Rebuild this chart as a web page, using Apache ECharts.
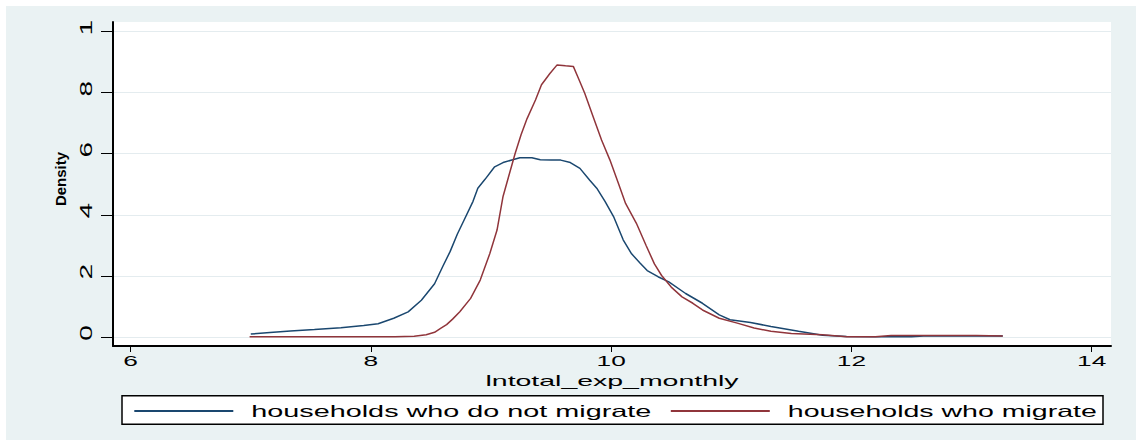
<!DOCTYPE html>
<html>
<head>
<meta charset="utf-8">
<script src="https://cdn.jsdelivr.net/npm/echarts@6/dist/echarts.min.js"></script>
<style>
  html, body { margin: 0; padding: 0; background: #ffffff; width: 1136px; height: 441px; overflow: hidden; }
  #chart { position: absolute; left: 6px; top: 6px; width: 1130px; height: 434px; }
</style>
</head>
<body>
<div id="chart"></div>
<script>
// ---- data ----
const seriesNames = ['households who do not migrate', 'households who migrate'];

const noMigrateX = [7.00, 7.16, 7.33, 7.53, 7.75, 7.94, 8.06, 8.19, 8.31, 8.42, 8.53, 8.60, 8.66, 8.72, 8.77, 8.85, 8.89, 8.95, 9.03, 9.10, 9.18, 9.24, 9.34, 9.41, 9.50, 9.58, 9.66, 9.74, 9.82, 9.88, 9.95, 10.02, 10.10, 10.17, 10.24, 10.30, 10.39, 10.48, 10.62, 10.76, 10.90, 10.99, 11.16, 11.33, 11.56, 11.76, 11.96, 12.20, 12.50, 12.60, 13.00, 13.26];
const noMigrateY = [0.009, 0.014, 0.019, 0.024, 0.030, 0.037, 0.043, 0.061, 0.082, 0.120, 0.174, 0.232, 0.280, 0.337, 0.378, 0.444, 0.487, 0.516, 0.557, 0.571, 0.580, 0.587, 0.587, 0.580, 0.579, 0.579, 0.571, 0.552, 0.514, 0.487, 0.443, 0.394, 0.318, 0.272, 0.242, 0.217, 0.197, 0.180, 0.142, 0.110, 0.072, 0.056, 0.047, 0.034, 0.018, 0.005, 0.001, 0.000, 0.000, 0.003, 0.003, 0.003];

const migrateX = [6.99, 7.60, 8.20, 8.36, 8.46, 8.53, 8.58, 8.63, 8.68, 8.74, 8.83, 8.91, 8.99, 9.05, 9.10, 9.15, 9.20, 9.25, 9.30, 9.37, 9.42, 9.49, 9.55, 9.62, 9.685, 9.73, 9.78, 9.85, 9.92, 9.99, 10.06, 10.12, 10.21, 10.29, 10.36, 10.42, 10.50, 10.59, 10.68, 10.76, 10.90, 11.05, 11.19, 11.33, 11.50, 11.76, 11.96, 12.20, 12.33, 12.70, 13.04, 13.26];
const migrateY = [0.000, 0.000, 0.000, 0.002, 0.007, 0.015, 0.028, 0.040, 0.058, 0.082, 0.126, 0.186, 0.273, 0.350, 0.460, 0.530, 0.600, 0.662, 0.715, 0.776, 0.826, 0.863, 0.891, 0.888, 0.886, 0.845, 0.798, 0.721, 0.645, 0.579, 0.503, 0.437, 0.372, 0.300, 0.239, 0.201, 0.163, 0.131, 0.110, 0.088, 0.061, 0.045, 0.029, 0.018, 0.011, 0.007, 0.000, 0.000, 0.004, 0.004, 0.004, 0.003];

const xTicks = [6, 8, 10, 12, 14];
const yTicks = [0, 0.2, 0.4, 0.6, 0.8, 1];
const yTickLabels = ['0', '2', '4', '6', '8', '1'];
const xTitle = 'lntotal_exp_monthly';
const yTitle = 'Density';

// ---- styling ----
const FONT = 'Liberation Sans, Arial, sans-serif';
const BLUE = '#1a476f';
const RED = '#90353b';

function zip(xs, ys) { return xs.map((x, i) => [x, ys[i]]); }

const chart = echarts.init(document.getElementById('chart'), null, { renderer: 'svg' });

const option = {
  animation: false,
  backgroundColor: '#eaf2f3',
  grid: { left: 107, right: 25, top: 16, bottom: 94, show: true, backgroundColor: '#ffffff', borderWidth: 0 },
  xAxis: {
    type: 'value', min: 5.853, max: 14.161,
    axisLine: { show: true, onZero: false, lineStyle: { color: '#000', width: 2 } },
    axisTick: { show: true, customValues: xTicks, length: 6, lineStyle: { color: '#000', width: 1 } },
    axisLabel: { customValues: xTicks, margin: 8.5, fontSize: 15, lineHeight: 12, color: '#000', fontFamily: FONT },
    splitLine: { show: false },
    name: xTitle, nameLocation: 'middle', nameGap: 28, nameMoveOverlap: false,
    nameTextStyle: { fontSize: 15, lineHeight: 12, color: '#000', fontFamily: FONT }
  },
  yAxis: {
    type: 'value', min: -0.030, max: 1.0315,
    axisLine: { show: true, onZero: false, lineStyle: { color: '#000', width: 2 } },
    axisTick: { show: true, customValues: yTicks, length: 12, lineStyle: { color: '#000', width: 1 } },
    axisLabel: {
      customValues: yTicks, rotate: 90, margin: 19, fontSize: 16, color: '#000', fontFamily: FONT,
      padding: [0, 0, 0, 8],
      formatter: function (v) { return yTickLabels[Math.round(v * 5)]; }
    },
    splitLine: { show: true, lineStyle: { color: '#e4ecef', width: 1 } },
    name: yTitle, nameLocation: 'middle', nameGap: 45, nameMoveOverlap: false,
    nameTextStyle: { fontSize: 15, fontWeight: 'bold', color: '#000', fontFamily: FONT, padding: [0, 0, 0, 10] }
  },
  graphic: [{
    type: 'rect', silent: true, z: 0,
    shape: { x: 116, y: 389.7, width: 981, height: 28.6 },
    style: { fill: '#ffffff', stroke: '#000', lineWidth: 1.5 }
  }],
  legend: [
    {
      data: [seriesNames[0]], left: 128.3, top: 396.5, padding: 0, icon: 'rect',
      itemWidth: 99, itemHeight: 2, selectedMode: false,
      textStyle: { fontSize: 16.5, color: '#000', fontFamily: FONT, padding: [14, 0, 0, 13] }
    },
    {
      data: [seriesNames[1]], left: 664.8, top: 396.5, padding: 0, icon: 'rect',
      itemWidth: 99, itemHeight: 2, selectedMode: false,
      textStyle: { fontSize: 16.5, color: '#000', fontFamily: FONT, padding: [14, 0, 0, 13] }
    }
  ],
  series: [
    {
      name: seriesNames[0], type: 'line', data: zip(noMigrateX, noMigrateY),
      symbol: 'none', color: BLUE, itemStyle: { color: BLUE },
      lineStyle: { color: BLUE, width: 1.5 }
    },
    {
      name: seriesNames[1], type: 'line', data: zip(migrateX, migrateY),
      symbol: 'none', color: RED, itemStyle: { color: RED },
      lineStyle: { color: RED, width: 1.5 }
    }
  ]
};

chart.setOption(option);

// The reference draws its text with wide glyphs: stretch text along its baseline.
const K = 1.75;
const targetWidths = { 'households who do not migrate': 400, 'households who migrate': 309, 'lntotal_exp_monthly': 253 };
function stretchTexts() {
  document.querySelectorAll('#chart svg text').forEach(function (t) {
    if (t.getAttribute('data-stretched')) return;
    const s = t.textContent;
    if (s === yTitle) return;
    const w = t.getComputedTextLength();
    if (!w) return;
    const target = targetWidths[s] || w * K;
    t.setAttribute('textLength', target.toFixed(1));
    t.setAttribute('lengthAdjust', 'spacingAndGlyphs');
    t.setAttribute('data-stretched', '1');
  });
}
stretchTexts();
chart.on('finished', stretchTexts);
</script>
</body>
</html>
